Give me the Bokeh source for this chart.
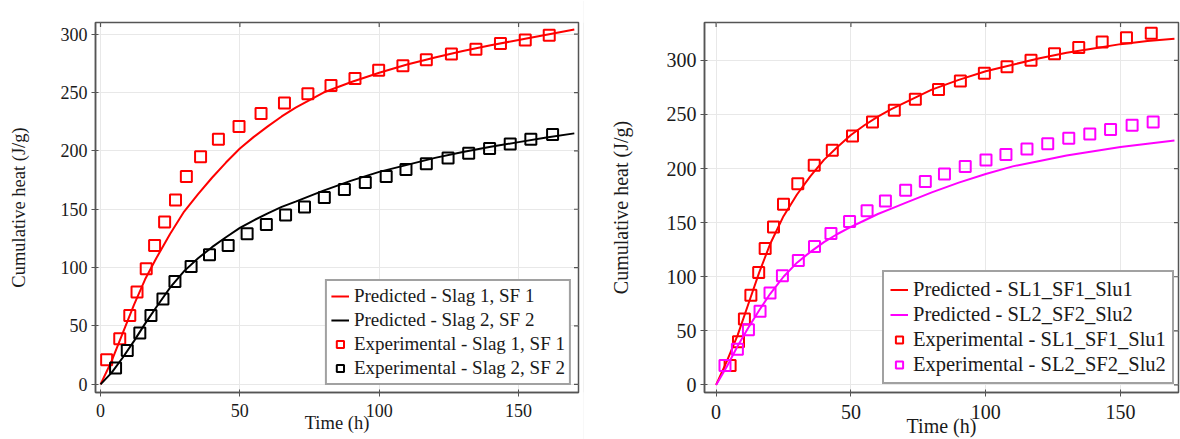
import math
from bokeh.plotting import figure
from bokeh.layouts import row
from bokeh.models import Legend, LegendItem, FixedTicker, Range1d
from bokeh.embed import file_html
from bokeh.resources import INLINE

# ---------------- data: left panel ----------------
pred_time = [0, 4, 8, 12, 16, 20, 25, 30, 35, 40, 45, 50, 55, 60, 65, 70, 80,
             90, 100, 110, 120, 130, 140, 150, 160, 170]
pred_slag1_sf1 = [0, 20, 44, 68, 90, 108, 129, 148, 163, 177, 190, 202, 212,
                  221, 229.5, 237, 250, 259, 267, 274, 280, 285.5, 290.5, 295,
                  299.5, 304]
pred_slag2_sf2 = [0, 10, 23, 37, 52, 66, 83, 97, 108, 117.5, 126, 134, 140.5,
                  146.5, 152, 156.5, 166, 174.5, 182, 188, 194, 199, 203.5,
                  207.5, 211.5, 215]

exp_slag1_time = [2.2, 6.9, 10.5, 13.1, 16.4, 19.4, 23.0, 26.9, 30.8, 35.9,
                  42.3, 49.7, 57.6, 66.0, 74.4, 82.7, 91.3, 99.8, 108.5,
                  116.9, 125.9, 134.7, 143.5, 152.4, 161.0]
exp_slag1_heat = [21, 39, 59, 79, 99, 119, 139, 158, 178, 195, 210, 221, 232,
                  241, 249, 256, 262, 269, 273, 278, 283, 287, 292, 295, 299]
exp_slag2_time = [5.4, 9.6, 14.1, 18.1, 22.4, 26.7, 32.5, 39.1, 45.8, 52.6,
                  59.5, 66.4, 73.2, 80.3, 87.5, 95.0, 102.5, 109.6, 116.9,
                  124.7, 132.1, 139.6, 147.0, 154.4, 162.2]
exp_slag2_heat = [14, 29, 44, 59, 73, 88, 101, 111, 119, 129, 137, 145, 152,
                  160, 167, 173, 178, 184, 189, 194, 198, 202, 206, 210, 214]

# ---------------- data: right panel ----------------
pred_sl1 = [0, 22, 46, 75, 104, 130, 156, 176, 193, 208, 220, 231, 240, 248,
            255, 261, 273, 282, 290, 296, 302, 307, 311, 315, 318, 320]
pred_sl2 = [0, 17, 36, 53, 69, 84, 100, 113, 123, 132, 139.5, 146, 152, 158,
            163, 168, 178, 187, 195, 202, 207, 212, 216, 220, 223, 226]

exp_sl1_time = [5.2, 8.3, 10.5, 12.9, 15.8, 18.2, 21.3, 25.0, 30.3, 36.4,
                43.1, 50.6, 58.0, 66.1, 73.9, 82.5, 90.6, 99.5, 107.9, 116.8,
                125.5, 134.5, 143.2, 152.2, 161.4]
exp_sl1_heat = [18, 40, 61, 83, 104, 126, 146, 167, 186, 203, 217, 230, 243,
                254, 264, 273, 281, 288, 294, 300, 306, 312, 317, 321, 325]
exp_sl2_time = [3.3, 7.9, 12.0, 16.3, 20.0, 24.6, 30.5, 36.5, 42.6, 49.5,
                56.0, 62.8, 70.3, 77.6, 84.7, 92.4, 100.1, 107.5, 115.3,
                123.0, 130.8, 138.6, 146.3, 154.3, 162.1]
exp_sl2_heat = [18, 33, 51, 68, 85, 101, 115, 128, 140, 151, 161, 170, 180,
                188, 195, 202, 208, 213, 218, 223, 228, 232, 236, 240, 243]

x_ticks = [0, 50, 100, 150]
y_ticks = [0, 50, 100, 150, 200, 250, 300]

FONT = "Liberation Serif"
FRAME = "#555555"
GRID = "#e8e8e8"
TXT = "#1a1a1a"
H = 439


def make_panel(width, b_left, b_right, b_bottom, x_rng, y_rng, tick_fs,
               lab_fs, leg_fs, ylab_standoff, xtick_standoff, xlab_standoff,
               series, leg_label_h, leg_pad, leg_loc, leg_margin):
    p = figure(width=width, height=H, output_backend="svg",
               toolbar_location=None, x_range=Range1d(*x_rng),
               y_range=Range1d(*y_rng), min_border_left=b_left,
               min_border_right=b_right, min_border_top=22,
               min_border_bottom=b_bottom)
    p.outline_line_color = FRAME
    p.outline_line_width = 1.5
    p.background_fill_color = "white"
    p.border_fill_color = "white"

    p.xaxis.ticker = FixedTicker(ticks=x_ticks)
    p.yaxis.ticker = FixedTicker(ticks=y_ticks)
    p.xgrid.ticker = FixedTicker(ticks=x_ticks)
    p.ygrid.ticker = FixedTicker(ticks=y_ticks)
    p.xgrid.grid_line_color = GRID
    p.ygrid.grid_line_color = GRID

    for ax in (p.xaxis[0], p.yaxis[0]):
        ax.axis_line_color = FRAME
        ax.axis_line_width = 1.5
        ax.major_tick_line_color = FRAME
        ax.major_tick_in = 3
        ax.major_tick_out = 4
        ax.minor_tick_line_color = None
        ax.major_label_text_font = FONT
        ax.major_label_text_font_size = tick_fs
        ax.major_label_text_color = TXT
        ax.axis_label_text_font = FONT
        ax.axis_label_text_font_size = lab_fs
        ax.axis_label_text_font_style = "normal"
        ax.axis_label_text_color = TXT
    p.xaxis.axis_label = "Time (h)"
    p.yaxis.axis_label = "Cumulative heat (J/g)"
    p.xaxis.major_label_standoff = xtick_standoff
    p.xaxis.axis_label_standoff = xlab_standoff
    p.yaxis.major_label_standoff = 4
    p.yaxis.axis_label_standoff = ylab_standoff

    # mirrored inward ticks on the top and right edges of the frame
    p.scatter(x_ticks, [y_rng[1]] * len(x_ticks), marker="dash", size=9,
              angle=math.pi / 2, line_color=FRAME, line_width=1.2)
    p.scatter([x_rng[1]] * len(y_ticks), y_ticks, marker="dash", size=9,
              line_color=FRAME, line_width=1.2)

    line_items, mark_items = [], []
    for (lx, ly, ex, ey, color, lname, ename) in series:
        lr = p.line(lx, ly, line_color=color, line_width=2)
        mr = p.scatter(ex, ey, marker="square", size=11, fill_color=None,
                       line_color=color, line_width=2)
        line_items.append(LegendItem(label=lname, renderers=[lr]))
        mark_items.append(LegendItem(label=ename, renderers=[mr]))

    leg = Legend(items=line_items + mark_items, location=leg_loc,
                 margin=leg_margin)
    leg.label_text_font = FONT
    leg.label_text_font_size = leg_fs
    leg.label_text_color = TXT
    leg.label_height = leg_label_h
    leg.glyph_height = leg_label_h
    leg.glyph_width = 18
    leg.label_standoff = 5
    leg.spacing = 2
    leg.padding = leg_pad
    leg.border_line_color = "#444444"
    leg.border_line_width = 2
    leg.background_fill_color = "white"
    leg.background_fill_alpha = 1.0
    p.add_layout(leg, "center")
    return p


left = make_panel(
    583, 95, 5, 40, (-1.8, 171.5), (-7, 310), "18px", "18.5px", "19px", 29,
    7, -7,
    [(pred_time, pred_slag1_sf1, exp_slag1_time, exp_slag1_heat, "#ff0000",
      "Predicted - Slag 1, SF 1", "Experimental - Slag 1, SF 1"),
     (pred_time, pred_slag2_sf2, exp_slag2_time, exp_slag2_heat, "#000000",
      "Predicted - Slag 2, SF 2", "Experimental - Slag 2, SF 2")],
    22, 4, "bottom_right", 7)

right = make_panel(
    596, 120, 2, 43, (-4.3, 171.5), (-7, 335), "20px", "20px", "20.5px", 32,
    8, -7,
    [(pred_time, pred_sl1, exp_sl1_time, exp_sl1_heat, "#ff0000",
      "Predicted - SL1_SF1_Slu1", "Experimental - SL1_SF1_Slu1"),
     (pred_time, pred_sl2, exp_sl2_time, exp_sl2_heat, "#ff00ff",
      "Predicted - SL2_SF2_Slu2", "Experimental - SL2_SF2_Slu2")],
    23, 6, (178, 8), 0)

divider = figure(width=1, height=H, output_backend="svg",
                 toolbar_location=None, min_border=0)
divider.axis.visible = False
divider.grid.visible = False
divider.outline_line_color = None
divider.background_fill_color = "#e4e4e4"
divider.border_fill_color = "#e4e4e4"

layout = row(left, divider, right)
open("out.html", "w").write(file_html(layout, INLINE))
